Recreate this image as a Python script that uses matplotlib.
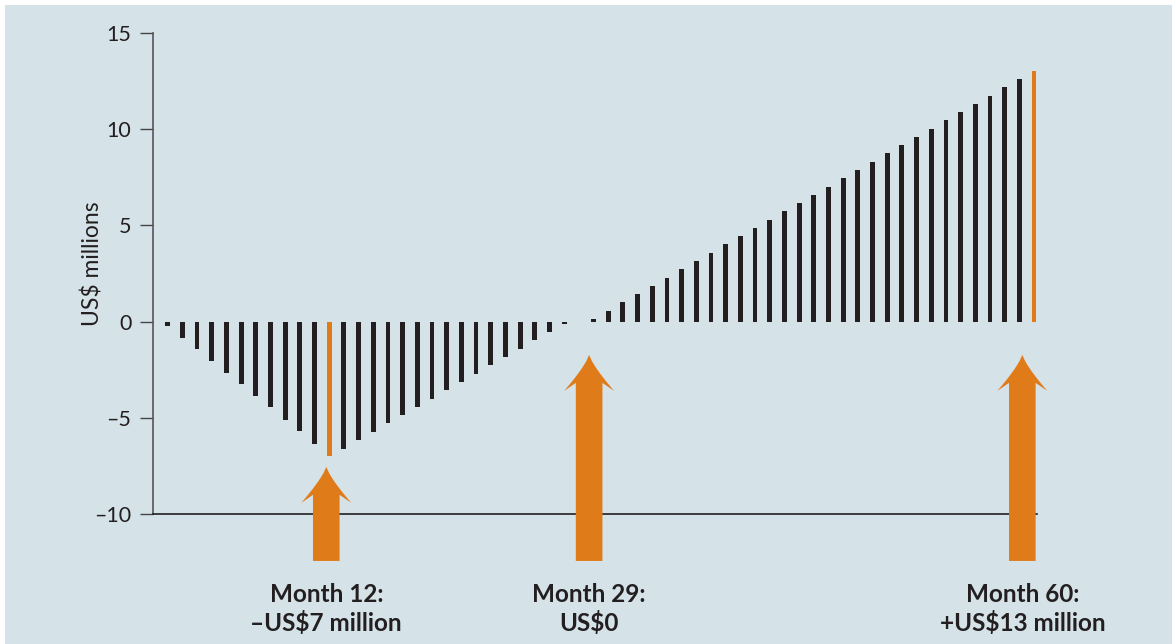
import numpy as np
import matplotlib.pyplot as plt
from matplotlib.patches import Rectangle, Polygon

plt.rcParams['font.family'] = ['Lato', 'DejaVu Sans']

# monthly cumulative cash position, US$ millions
months = list(range(1, 61))
values = [-0.25, -0.85, -1.45, -2.05, -2.65, -3.25, -3.85, -4.45, -5.1, -5.7,
          -6.35, -7.0, -6.6, -6.15, -5.72, -5.29, -4.86, -4.43, -4.0, -3.57,
          -3.14, -2.71, -2.28, -1.85, -1.4, -0.95, -0.52, -0.12, 0.0, 0.14,
          0.57, 1.0, 1.43, 1.86, 2.29, 2.72, 3.15, 3.58, 4.01, 4.44,
          4.87, 5.3, 5.73, 6.16, 6.59, 7.02, 7.45, 7.88, 8.31, 8.74,
          9.17, 9.6, 10.03, 10.46, 10.89, 11.32, 11.75, 12.18, 12.61, 13.0]
highlight = [12, 29, 60]
labels = ['Month 12:\n\u2013US$7 million', 'Month 29:\nUS$0',
          'Month 60:\n+US$13 million']
yticks = [-10, -5, 0, 5, 10, 15]
yticklabels = ['\u201310', '\u20135', '0', '5', '10', '15']

BLACK = '#231f20'
ORANGE = '#e07b1a'
BG = '#d5e2e8'

fig = plt.figure(figsize=(11.72, 6.44), dpi=100, facecolor='white')
fig.patches.append(Rectangle((5 / 1172, 0), 1, 639 / 644, transform=fig.transFigure,
                             facecolor=BG, edgecolor='none', zorder=-10))
ax = fig.add_axes([153 / 1172, 130 / 644, 884 / 1172, 481 / 644])
ax.set_facecolor('none')

colors = [ORANGE if m in highlight else BLACK for m in months]
widths = [0.26 if m == 60 else 0.33 for m in months]
ax.bar(months, values, width=widths, color=colors, linewidth=0)

ax.set_xlim(0, 60.2)
ax.set_ylim(-10, 15)
ax.set_xticks([])
ax.set_yticks(yticks)
ax.set_yticklabels(yticklabels, fontsize=15.5, color=BLACK)
ax.tick_params(axis='y', length=9.5, width=1, color='#444444', pad=6)
for s in ('top', 'right'):
    ax.spines[s].set_visible(False)
ax.spines['left'].set_color('#555555')
ax.spines['bottom'].set_color(BLACK)
ax.spines['left'].set_linewidth(1.2)
ax.spines['bottom'].set_linewidth(1.2)
ax.set_ylabel('US$ millions', fontsize=16.5, color=BLACK)
ax.yaxis.set_label_coords(-0.056, 0.52)

# arrows: x in data units, shape in pixels
arrow_x = [11.8, 29.7, 59.2]
tip_y = [-7.55, -1.73, -1.73]
base_y = -12.44
inv = fig.transFigure.inverted()
for xm, ty, lab in zip(arrow_x, tip_y, labels):
    px, ptip = ax.transData.transform((xm, ty))
    _, pbase = ax.transData.transform((xm, base_y))
    sw, hw, hl = 13.3, 25, 36
    t = np.linspace(0, 1, 10)
    # slightly concave sides of the head
    right = [(px + hw * s, ptip - hl * (s ** 0.8)) for s in t]
    left = [(px - hw * s, ptip - hl * (s ** 0.8)) for s in t[::-1]]
    pts = right + [(px + sw, ptip - hl + 8), (px + sw, pbase), (px - sw, pbase),
                   (px - sw, ptip - hl + 8)] + left
    fig.patches.append(Polygon([inv.transform(p) for p in pts], closed=True,
                               transform=fig.transFigure,
                               facecolor=ORANGE, edgecolor='none'))
    fx = inv.transform((px, 0))[0]
    fig.text(fx, 1 - 609 / 644, lab, ha='center', va='center', fontsize=17.5,
             fontweight='bold', color=BLACK, linespacing=1.3)

fig.savefig('out.png', dpi=100, facecolor=fig.get_facecolor())
